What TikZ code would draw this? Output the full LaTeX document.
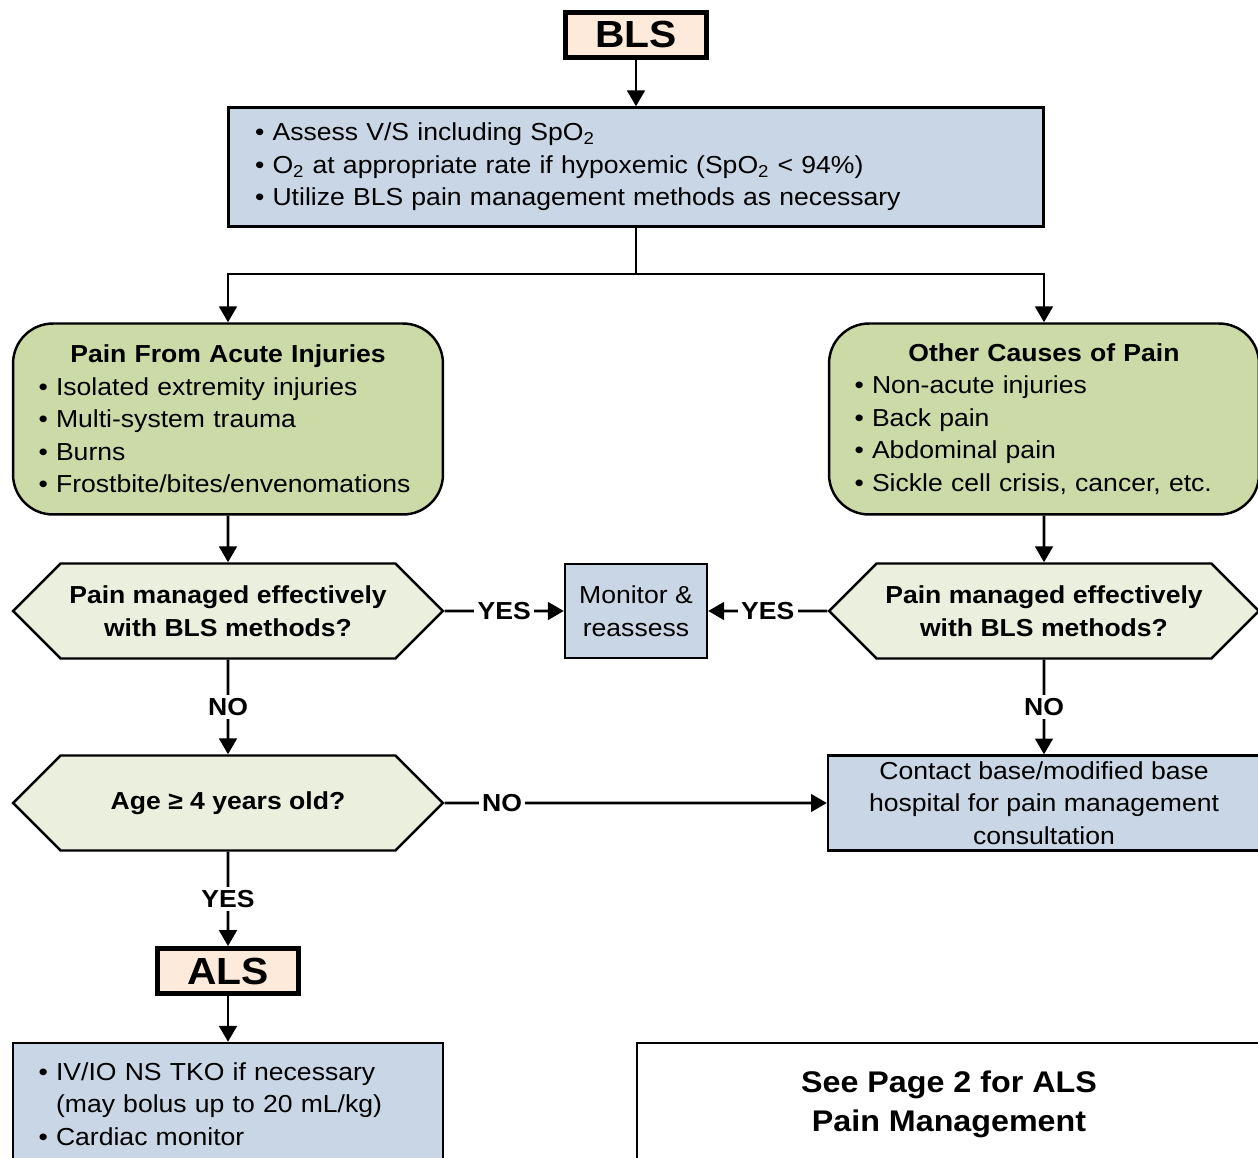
\documentclass[tikz,border=0pt]{standalone}
\usepackage{fontspec}
\setmainfont{Liberation Sans}[FakeStretch=1.08]
\usetikzlibrary{arrows.meta,shapes.symbols}

\definecolor{lsfill}{HTML}{FDEADA}
\definecolor{infofill}{HTML}{C8D6E6}
\definecolor{causefill}{HTML}{CCDAA8}
\definecolor{askfill}{HTML}{EBF0DE}

\newcommand{\bodysize}{\fontsize{14}{18.5}\selectfont}
\newcommand{\bul}{\textbullet~}

\tikzset{
	levelbox/.style={draw, line width=2.8pt, fill=lsfill, minimum width=2.82cm, minimum height=0.9cm, font=\bfseries\fontsize{21.5}{26}\selectfont},
	infobox/.style={draw, line width=1.4pt, fill=infofill, align=left, font=\bodysize},
	causebox/.style={draw, line width=1.4pt, fill=causefill, rounded corners=0.8cm, minimum width=8.6cm, minimum height=3.82cm, text width=7.58cm, inner xsep=0.5cm, font=\bodysize},
	askbox/.style={draw, line width=1.4pt, fill=askfill, signal, signal to=east and west, signal pointer angle=90, minimum width=8.6cm, minimum height=1.9cm, align=center, font=\bfseries\bodysize},
	flow/.style={line width=1.5pt, -{Triangle[length=9pt,width=10pt]}},
	link/.style={line width=1.5pt},
	lbl/.style={fill=white, inner sep=2pt, font=\bfseries\bodysize}
}

\begin{document}
\begin{tikzpicture}[x=0.02cm,y=-0.02cm]
	\clip (0,0) rectangle (1258,1158);
	\node[levelbox] (bls) at (636,35) {BLS};
	\node[infobox, minimum width=16.3cm, minimum height=2.38cm, text width=15.24cm, inner xsep=0.53cm] (vs) at (636,167)
		{\bul Assess V/S including SpO\textsubscript{2}\\
		\bul O\textsubscript{2} at appropriate rate if hypoxemic (SpO\textsubscript{2} < 94\%)\\
		\bul Utilize BLS pain management methods as necessary};
	\coordinate (fork) at (636,274);
	\node[causebox] (acute) at (228,419)
		{\centering\textbf{Pain From Acute Injuries}\par\raggedright
		\bul Isolated extremity injuries\\
		\bul Multi-system trauma\\
		\bul Burns\\
		\bul Frostbite/bites/envenomations};
	\node[causebox] (other) at (1044,419)
		{\centering\textbf{Other Causes of Pain}\par\raggedright
		\bul Non-acute injuries\\
		\bul Back pain\\
		\bul Abdominal pain\\
		\bul Sickle cell crisis, cancer, etc.};
	\node[askbox] (askl) at (228,611) {Pain managed effectively\\with BLS methods?};
	\node[askbox] (askr) at (1044,611) {Pain managed effectively\\with BLS methods?};
	\node[infobox, align=center, minimum width=2.84cm, minimum height=1.88cm] (mon) at (636,611) {Monitor \&\\reassess};
	\node[askbox] (age) at (228,803) {Age ≥ 4 years old?};
	\node[infobox, align=center, minimum width=8.64cm, minimum height=1.88cm] (base) at (1044,803)
		{Contact base/modified base\\hospital for pain management\\consultation};
	\node[levelbox] (als) at (228,971) {ALS};
	\node[infobox, minimum width=8.6cm, minimum height=2.44cm, text width=7.58cm, inner xsep=0.5cm] (alsv) at (228,1104)
		{\bul IV/IO NS TKO if necessary\\
		\phantom{\bul}(may bolus up to 20 mL/kg)\\
		\bul Cardiac monitor};
	\node[draw, line width=1.2pt, fill=white, minimum width=12.5cm, minimum height=2.44cm, align=center,
		font=\bfseries\fontsize{17}{22.2}\selectfont] (page) at (949,1104) {See Page 2 for ALS\\Pain Management};
	\draw[flow] (bls) -- (vs);
	\draw[link] (vs) -- (fork);
	\draw[flow] (fork) -| (acute);
	\draw[flow] (fork) -| (other);
	\draw[flow] (acute) -- (askl);
	\draw[flow] (other) -- (askr);
	\draw[flow] (askl) -- node[lbl] {YES} (mon);
	\draw[flow] (askr) -- node[lbl] {YES} (mon);
	\draw[flow] (askl) -- node[lbl] {NO} (age);
	\draw[flow] (askr) -- node[lbl] {NO} (base);
	\draw[flow] (age) -- node[lbl, pos=0.15] {NO} (base);
	\draw[flow] (age) -- node[lbl] {YES} (als);
	\draw[flow] (als) -- (alsv);
	% pain management
\end{tikzpicture}
\end{document}
